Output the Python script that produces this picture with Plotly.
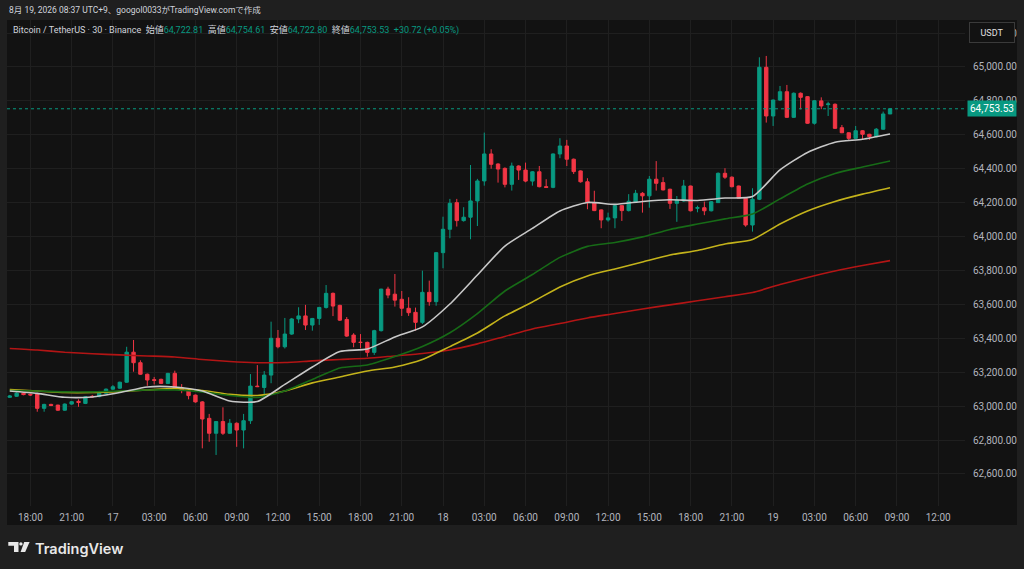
"""
BTC/USDT 30-minute candles with four moving averages, TradingView dark style.
"""

import pandas as pd
import plotly.graph_objects as go

W, H = 1024, 569

# 30 minute candles, first one opens 2026-08-16 16:30 (UTC+9)
start_time = "2026-08-16 16:30"
opens = [
    63052, 63058, 63076, 63070, 63071, 62987, 63010, 63006, 62976, 63012,
    63028, 63016, 63058, 63056, 63076, 63100, 63106, 63141, 63318, 63256,
    63188, 63156, 63158, 63134, 63193, 63106, 63092, 63065, 63025, 62928,
    62840, 62909, 62840, 62899, 62859, 62914, 63118, 63110, 63183, 63400,
    63350, 63425, 63514, 63532, 63478, 63517, 63582, 63665, 63594, 63511,
    63419, 63376, 63376, 63317, 63445, 63690, 63660, 63630, 63577, 63553,
    63494, 63671, 63616, 63905, 64043, 64200, 64094, 64114, 64210, 64328,
    64487, 64428, 64402, 64308, 64416, 64392, 64327, 64382, 64294, 64290,
    64487, 64534, 64456, 64387, 64323, 64200, 64157, 64098, 64110, 64182,
    64153, 64204, 64255, 64240, 64338, 64318, 64279, 64196, 64210, 64298,
    64167, 64170, 64152, 64200, 64373, 64350, 64298, 64226, 64068, 64220,
    64998, 64711, 64805, 64854, 64703, 64845, 64825, 64668, 64800, 64778,
    64780, 64642, 64612, 64579, 64624, 64603, 64589, 64633, 64722.81,
]
highs = [
    63066, 63082, 63080, 63074, 63075, 63014, 63014, 63008, 63016, 63030,
    63040, 63058, 63066, 63090, 63104, 63124, 63144, 63350, 63390, 63270,
    63192, 63172, 63162, 63196, 63209, 63130, 63096, 63068, 63030, 62954,
    62912, 62993, 62924, 62904, 62954, 63189, 63242, 63207, 63498, 63449,
    63520, 63520, 63583, 63597, 63520, 63585, 63714, 63670, 63598, 63525,
    63430, 63425, 63380, 63450, 63692, 63704, 63779, 63679, 63642, 63581,
    63799, 63740, 63908, 64117, 64222, 64222, 64173, 64422, 64340, 64613,
    64515, 64432, 64408, 64436, 64420, 64436, 64386, 64416, 64338, 64490,
    64580, 64570, 64460, 64390, 64344, 64270, 64160, 64141, 64185, 64185,
    64250, 64275, 64262, 64357, 64445, 64350, 64282, 64239, 64334, 64300,
    64182, 64206, 64210, 64378, 64403, 64355, 64300, 64230, 64285, 65057,
    65065, 64808, 64888, 64894, 64850, 64850, 64828, 64805, 64821, 64795,
    64785, 64658, 64615, 64652, 64628, 64606, 64640, 64737, 64754.61,
]
lows = [
    63048, 63054, 63064, 63060, 62967, 62967, 63000, 62972, 62972, 63008,
    62996, 63012, 63050, 63052, 63072, 63096, 63102, 63138, 63203, 63184,
    63120, 63128, 63130, 63130, 63102, 63076, 63040, 63020, 62751, 62790,
    62712, 62830, 62836, 62760, 62751, 62895, 63112, 63046, 63135, 63341,
    63340, 63420, 63489, 63449, 63445, 63479, 63575, 63531, 63502, 63408,
    63347, 63341, 63292, 63302, 63440, 63636, 63587, 63532, 63532, 63445,
    63484, 63592, 63592, 63813, 63990, 64059, 64088, 63984, 64062, 64300,
    64400, 64318, 64290, 64271, 64334, 64320, 64300, 64290, 64286, 64285,
    64462, 64416, 64369, 64318, 64161, 64150, 64049, 64088, 64049, 64092,
    64148, 64200, 64141, 64170, 64271, 64272, 64163, 64087, 64205, 64148,
    64143, 64126, 64148, 64198, 64340, 64290, 64222, 64058, 64029, 64215,
    64672, 64652, 64800, 64700, 64700, 64750, 64665, 64660, 64751, 64711,
    64636, 64610, 64570, 64575, 64570, 64570, 64585, 64630, 64722.80,
]
closes = [
    63060, 63076, 63068, 63066, 62987, 63010, 63004, 62976, 63012, 63026,
    63022, 63055, 63055, 63076, 63100, 63114, 63141, 63318, 63256, 63188,
    63154, 63152, 63134, 63193, 63106, 63092, 63062, 63025, 62924, 62840,
    62909, 62840, 62899, 62859, 62914, 63118, 63115, 63183, 63400, 63350,
    63425, 63514, 63532, 63478, 63517, 63582, 63665, 63590, 63507, 63413,
    63376, 63376, 63317, 63445, 63690, 63655, 63625, 63577, 63551, 63494,
    63671, 63616, 63905, 64043, 64196, 64094, 64114, 64210, 64328, 64487,
    64426, 64398, 64308, 64416, 64392, 64327, 64382, 64294, 64290, 64487,
    64534, 64456, 64383, 64323, 64200, 64153, 64098, 64110, 64182, 64153,
    64208, 64255, 64240, 64338, 64314, 64275, 64196, 64216, 64298, 64152,
    64170, 64152, 64205, 64373, 64350, 64294, 64226, 64068, 64220, 64998,
    64711, 64805, 64854, 64703, 64845, 64821, 64668, 64801, 64770, 64782,
    64638, 64612, 64579, 64624, 64603, 64589, 64633, 64722.81, 64753.53,
]

# moving averages read every 2 hours from 16:30
ma_start = "2026-08-16 16:30"
ma_fast = [
    63089, 63075, 63052, 63054, 63080, 63113, 63113, 63089, 63030, 63027,
    63128, 63231, 63322, 63337, 63408, 63467, 63602, 63773, 63944, 64048,
    64151, 64201, 64190, 64207, 64217, 64213, 64227, 64236, 64393, 64496,
    64556, 64574, 64605,
]
ma_mid = [
    63092, 63089, 63084, 63084, 63089, 63095, 63095, 63084, 63063, 63051,
    63089, 63157, 63225, 63243, 63293, 63352, 63433, 63546, 63679, 63776,
    63877, 63942, 63965, 63998, 64042, 64074, 64104, 64133, 64222, 64310,
    64372, 64410, 64446,
]
ma_slow = [
    63098, 63089, 63080, 63080, 63086, 63095, 63104, 63092, 63069, 63063,
    63089, 63137, 63172, 63207, 63231, 63275, 63351, 63431, 63532, 63614,
    63703, 63768, 63809, 63850, 63891, 63918, 63956, 63983, 64074, 64151,
    64207, 64250, 64288,
]
ma_long = [
    63340, 63331, 63318, 63309, 63302, 63296, 63290, 63275, 63263, 63256,
    63257, 63267, 63275, 63282, 63296, 63310, 63331, 63367, 63411, 63455,
    63487, 63520, 63546, 63573, 63597, 63621, 63645, 63670, 63717, 63759,
    63797, 63829, 63858,
]

tick_times = [
    "2026-08-16 18:00", "2026-08-16 21:00", "2026-08-17 00:00", "2026-08-17 03:00",
    "2026-08-17 06:00", "2026-08-17 09:00", "2026-08-17 12:00", "2026-08-17 15:00",
    "2026-08-17 18:00", "2026-08-17 21:00", "2026-08-18 00:00", "2026-08-18 03:00",
    "2026-08-18 06:00", "2026-08-18 09:00", "2026-08-18 12:00", "2026-08-18 15:00",
    "2026-08-18 18:00", "2026-08-18 21:00", "2026-08-19 00:00", "2026-08-19 03:00",
    "2026-08-19 06:00", "2026-08-19 09:00", "2026-08-19 12:00",
]
tick_labels = [
    "18:00", "21:00", "17", "03:00", "06:00", "09:00", "12:00", "15:00",
    "18:00", "21:00", "18", "03:00", "06:00", "09:00", "12:00", "15:00",
    "18:00", "21:00", "19", "03:00", "06:00", "09:00", "12:00",
]

UP = "#089981"
DOWN = "#f23645"
TEXT = "#d1d4dc"
AXIS_TEXT = "#b2b5be"
GRID = "#1f1f1f"
PANEL = "#121212"
PAPER = "#1f1f1f"
UI_FONT = "Roboto, Noto Sans CJK JP, sans-serif"


def px_x(x):
    return x / W


def px_y(y):
    return 1 - y / H


times = pd.date_range(start_time, periods=len(opens), freq="30min")
ma_times = pd.date_range(ma_start, periods=len(ma_fast), freq="2h")

fig = go.Figure()

fig.add_trace(
    go.Candlestick(
        x=times,
        open=opens,
        high=highs,
        low=lows,
        close=closes,
        increasing=dict(line=dict(color=UP, width=1), fillcolor=UP),
        decreasing=dict(line=dict(color=DOWN, width=1), fillcolor=DOWN),
        whiskerwidth=0,
        showlegend=False,
    )
)

# moving averages on top of the candles
for values, color in [
    (ma_long, "#b31515"),
    (ma_slow, "#c4b31b"),
    (ma_mid, "#176b17"),
    (ma_fast, "#c8c8c8"),
]:
    fig.add_trace(
        go.Scatter(
            x=ma_times,
            y=values,
            mode="lines",
            line=dict(color=color, width=1.6, shape="spline", smoothing=0.6),
            showlegend=False,
            hoverinfo="skip",
        )
    )

last_close = closes[-1]
change = closes[-1] - closes[-2]
change_pct = change / closes[-2] * 100

fig.update_layout(
    width=W,
    height=H,
    autosize=False,
    margin=dict(l=0, r=0, t=0, b=0),
    paper_bgcolor=PAPER,
    plot_bgcolor="rgba(0,0,0,0)",
    font=dict(family=UI_FONT, color=TEXT, size=10),
    xaxis=dict(
        type="date",
        domain=[px_x(7), px_x(965)],
        range=["2026-08-16 16:18", "2026-08-19 13:57"],
        tickvals=tick_times,
        ticktext=tick_labels,
        tickfont=dict(color=AXIS_TEXT, size=10, family="Roboto, sans-serif"),
        showgrid=True,
        gridcolor=GRID,
        gridwidth=1,
        zeroline=False,
        showline=False,
        ticks="outside",
        ticklen=2,
        tickcolor=PANEL,
        rangeslider=dict(visible=False),
    ),
    yaxis=dict(
        side="right",
        domain=[px_y(506), px_y(20)],
        range=[62411, 65277],
        tick0=0,
        dtick=200,
        tickformat=",.2f",
        tickfont=dict(color=AXIS_TEXT, size=10, family="Roboto, sans-serif"),
        showgrid=True,
        gridcolor=GRID,
        gridwidth=1,
        zeroline=False,
        showline=False,
        ticks="outside",
        ticklen=5,
        tickcolor=PANEL,
    ),
    hovermode=False,
)

# chart panel background and current price line
fig.add_shape(
    type="rect", xref="paper", yref="paper",
    x0=px_x(7), x1=px_x(1017), y0=px_y(525), y1=px_y(20),
    fillcolor=PANEL, line=dict(width=0), layer="below",
)
fig.add_shape(
    type="line", xref="paper", yref="y",
    x0=px_x(7), x1=px_x(965), y0=last_close, y1=last_close,
    line=dict(color=UP, width=1, dash="dot"),
)

# TradingView logo mark
fig.add_shape(
    type="path", xref="paper", yref="paper",
    path=(
        f"M {px_x(8.3)},{px_y(542)} L {px_x(18.5)},{px_y(542)} L {px_x(18.5)},{px_y(552)} "
        f"L {px_x(14)},{px_y(552)} L {px_x(14)},{px_y(545.8)} L {px_x(8.3)},{px_y(545.8)} Z"
    ),
    fillcolor="#e8e8e8", line=dict(width=0),
)
fig.add_shape(
    type="circle", xref="paper", yref="paper",
    x0=px_x(19.2), x1=px_x(22.6), y0=px_y(545.6), y1=px_y(542.2),
    fillcolor="#e8e8e8", line=dict(width=0),
)
fig.add_shape(
    type="path", xref="paper", yref="paper",
    path=(
        f"M {px_x(24.2)},{px_y(542)} L {px_x(29.6)},{px_y(542)} "
        f"L {px_x(25.2)},{px_y(552)} L {px_x(20.6)},{px_y(552)} Z"
    ),
    fillcolor="#e8e8e8", line=dict(width=0),
)

value_span = "<span style='color:" + UP + "'>{}</span>"
legend_text = (
    "Bitcoin / TetherUS · 30 · Binance\u00a0\u00a0"
    + "始値" + value_span.format(f"{opens[-1]:,.2f}") + "\u00a0\u00a0"
    + "高値" + value_span.format(f"{highs[-1]:,.2f}") + "\u00a0\u00a0"
    + "安値" + value_span.format(f"{lows[-1]:,.2f}") + "\u00a0\u00a0"
    + "終値" + value_span.format(f"{last_close:,.2f}") + "\u00a0\u00a0"
    + value_span.format(f"{change:+.2f} ({change_pct:+.2f}%)")
)

annotations = [
    dict(
        text="8月 19, 2026 08:37 UTC+9、googol0033がTradingView.comで作成",
        x=px_x(7), y=px_y(10), xanchor="left", yanchor="middle",
        font=dict(size=8.5, color=TEXT),
    ),
    dict(
        text=legend_text,
        x=px_x(11), y=px_y(30), xanchor="left", yanchor="middle",
        font=dict(size=9, color=TEXT),
    ),
    dict(
        text="USDT",
        x=px_x(991.5), y=px_y(32), xanchor="center", yanchor="middle",
        width=38, height=13,
        font=dict(size=9, color="#e0e0e0", family="Roboto, sans-serif"),
        bordercolor="#3a3a3a", borderwidth=1, borderpad=3, bgcolor=PANEL,
    ),
    dict(
        text="TradingView",
        x=px_x(33), y=px_y(548), xanchor="left", yanchor="middle",
        font=dict(size=14.5, color="#e8e8e8", family="Inter, Roboto, sans-serif", weight=600),
    ),
]
for ann in annotations:
    fig.add_annotation(xref="paper", yref="paper", showarrow=False, **ann)

# current price tag on the price scale
fig.add_annotation(
    xref="paper", yref="y", x=px_x(967), y=last_close,
    xanchor="left", yanchor="middle", showarrow=False,
    text=f"{last_close:,.2f}",
    font=dict(size=10, color="#ffffff", family="Roboto, sans-serif"),
    bgcolor=UP, borderpad=2,
)

# the page body has a default 8px margin; drop it so the figure sits at the window corner
fig.write_html(
    "out.html",
    config={"displayModeBar": False},
    post_script="document.body.style.margin='0';",
)
